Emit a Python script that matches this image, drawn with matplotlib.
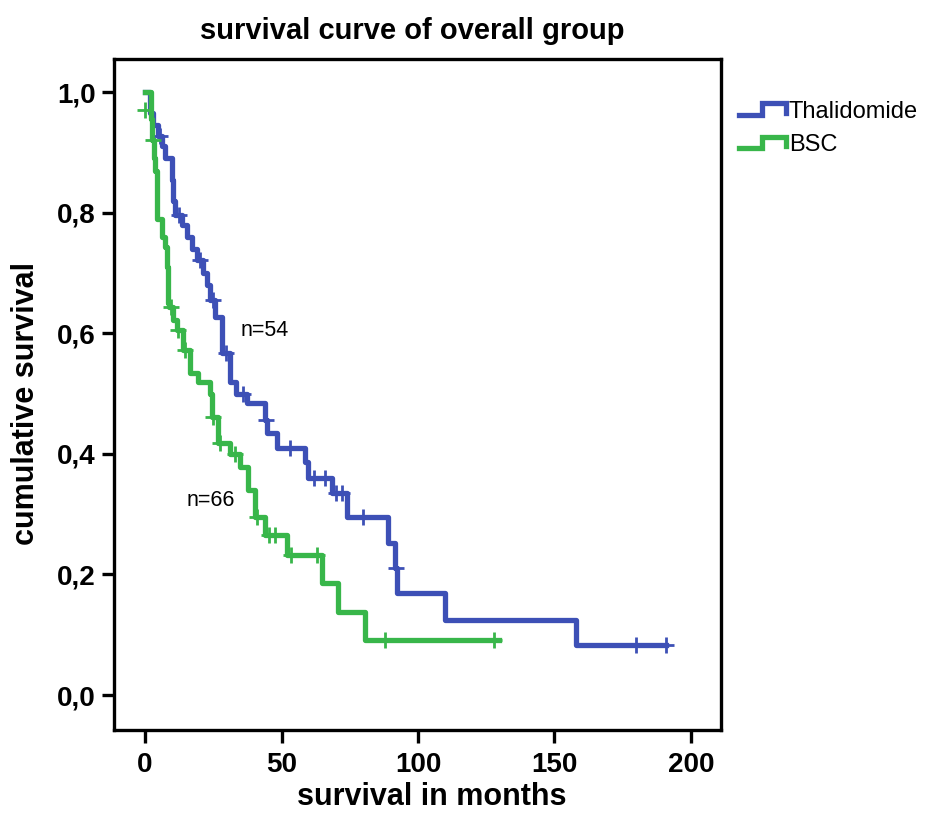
import numpy as np
import matplotlib.pyplot as plt
from matplotlib.lines import Line2D
from matplotlib.legend_handler import HandlerBase
from matplotlib.ticker import FuncFormatter

plt.rcParams['font.family'] = ['Liberation Sans', 'DejaVu Sans']

# Kaplan-Meier steps: time (months) and survival after the step
thal_t = [0, 1.8, 2.9, 4.8, 6.2, 7.3, 9.9, 10.3, 11.0, 13.6, 15.4, 17.2, 19.0, 21.2, 22.7,
          23.8, 25.6, 28.2, 31.1, 33.3, 37.4, 44.0, 44.7, 48.4, 58.6, 59.7, 68.5, 74.0,
          89.0, 91.6, 92.3, 110.0, 158.0, 191.0]
thal_s = [1.0, 0.966, 0.946, 0.928, 0.91, 0.891, 0.855, 0.82, 0.796, 0.78, 0.76, 0.74, 0.722,
          0.70, 0.68, 0.655, 0.627, 0.567, 0.52, 0.50, 0.485, 0.456, 0.435, 0.41, 0.387, 0.36,
          0.335, 0.295, 0.252, 0.21, 0.17, 0.125, 0.083, 0.083]
thal_cens_t = [5.5, 12.5, 20.0, 25.0, 29.5, 36.0, 44.3, 53.0, 62.0, 66.0, 70.0, 72.0, 80.0, 92.0, 180.0, 191.0]

bsc_t = [0, 2.0, 2.6, 3.3, 3.8, 4.4, 6.2, 7.3, 8.0, 8.4, 8.8, 10.3, 11.7, 13.9, 16.5, 19.4,
         23.8, 24.5, 26.7, 31.1, 34.8, 37.7, 40.3, 44.0, 52.0, 64.8, 70.7, 80.6, 129.7]
bsc_s = [1.0, 0.955, 0.92, 0.89, 0.87, 0.79, 0.76, 0.743, 0.71, 0.65, 0.644, 0.622, 0.606,
         0.572, 0.534, 0.519, 0.50, 0.461, 0.418, 0.40, 0.378, 0.34, 0.295, 0.265, 0.232,
         0.186, 0.138, 0.091, 0.091]
bsc_cens_t = [0, 3.0, 9.5, 12.0, 14.5, 25.0, 27.5, 33.0, 41.0, 45.5, 47.5, 53.5, 63.0, 88.0, 128.0]

blue = '#3d50b6'
green = '#38b64a'


def surv_at(ts, ss, t):
    idx = np.searchsorted(ts, t, side='right') - 1
    return np.array(ss)[idx]


class StepHandler(HandlerBase):
    def create_artists(self, legend, orig_handle, xdescent, ydescent, width, height, fontsize, trans):
        xs = np.array([0, 0.48, 0.48, 1.0, 1.0]) * width - xdescent
        ys = np.array([0.15, 0.15, 0.85, 0.85, 0.3]) * height - ydescent
        ln = Line2D(xs, ys, color=orig_handle.get_color(), lw=orig_handle.get_linewidth(),
                    solid_joinstyle='miter')
        ln.set_transform(trans)
        return [ln]


fig = plt.figure(figsize=(9.25, 8.13), dpi=100)
ax = fig.add_axes([0.1232, 0.1021, 0.6562, 0.8253])

l1, = ax.step(thal_t, thal_s, where='post', color=blue, lw=3.8, label='Thalidomide')
l2, = ax.step(bsc_t, bsc_s, where='post', color=green, lw=3.8, label='BSC')
ax.plot(thal_cens_t, surv_at(thal_t, thal_s, thal_cens_t), linestyle='', marker='+',
        color=blue, ms=11, mew=2)
ax.plot(bsc_cens_t, [0.97] + list(surv_at(bsc_t, bsc_s, bsc_cens_t[1:])), linestyle='',
        marker='+', color=green, ms=11, mew=2)

ax.text(44, 0.605, 'n=54', fontsize=15.5, ha='center', va='center')
ax.text(24, 0.323, 'n=66', fontsize=15.5, ha='center', va='center')

ax.set_xlim(-11.4, 211)
ax.set_ylim(-0.058, 1.055)
ax.set_xticks([0, 50, 100, 150, 200])
ax.set_yticks([0.0, 0.2, 0.4, 0.6, 0.8, 1.0])
ax.yaxis.set_major_formatter(FuncFormatter(lambda v, p: ('%.1f' % v).replace('.', ',')))
ax.tick_params(width=2.4, length=9, labelsize=20)
ax.tick_params(axis='x', pad=7)
ax.tick_params(axis='y', pad=4)
for lab in ax.get_xticklabels() + ax.get_yticklabels():
    lab.set_fontweight('bold')
for sp in ax.spines.values():
    sp.set_linewidth(2.4)

fig.text(412 / 925, 1 - 31 / 813, 'survival curve of overall group', fontsize=21,
         fontweight='bold', ha='center', va='center')
ax.set_xlabel('survival in months', fontsize=22, fontweight='bold')
ax.set_ylabel('cumulative survival', fontsize=22, fontweight='bold')
ax.xaxis.set_label_coords(0.524, -0.077)
ax.yaxis.set_label_coords(-0.12, 0.487)

fig.legend([l1, l2], ['Thalidomide', 'BSC'], handler_map={l1: StepHandler(), l2: StepHandler()},
           loc='upper left', bbox_to_anchor=(0.789, 0.888), frameon=False, fontsize=17,
           handlelength=2.0, handletextpad=0.1, labelspacing=0.48, borderaxespad=0)

fig.savefig('out.png', dpi=100)
